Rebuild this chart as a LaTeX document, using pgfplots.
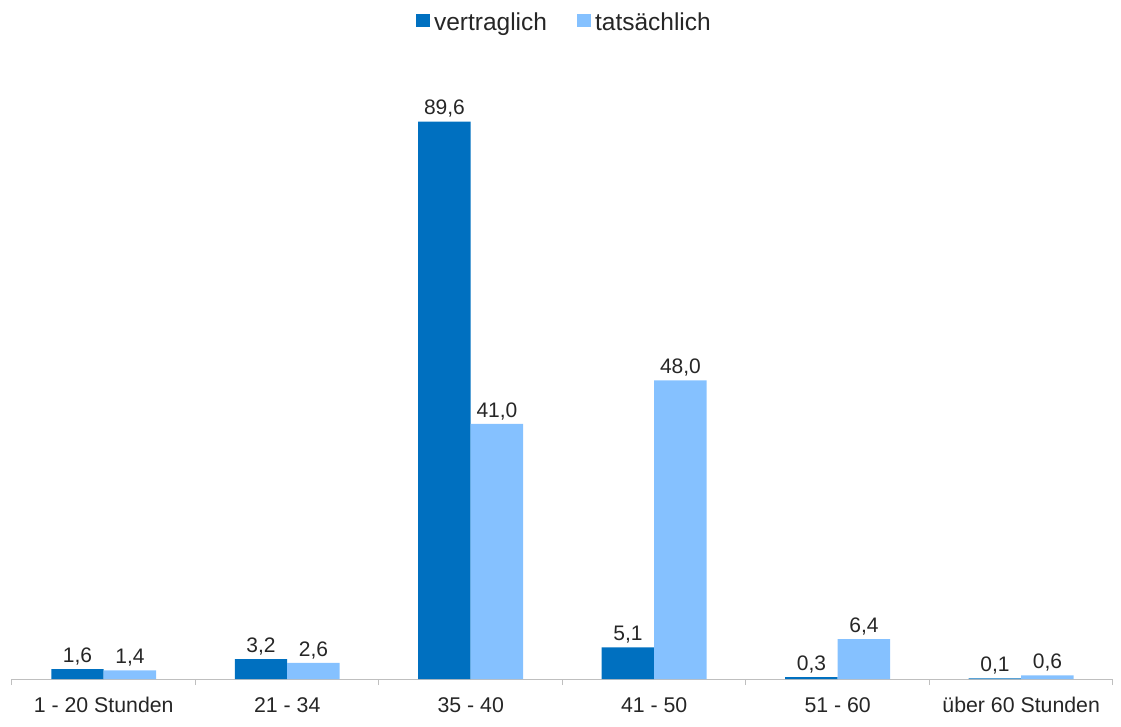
\documentclass[border=0pt]{standalone}
\usepackage{fontspec}
\setmainfont{Liberation Sans}
\usepackage{pgfplots}
\pgfplotsset{compat=1.18}
\definecolor{dunkel}{RGB}{0,112,192}
\definecolor{hell}{RGB}{133,193,255}
\definecolor{achse}{RGB}{191,191,191}
\begin{document}
\begin{tikzpicture}
\useasboundingbox (0,0) rectangle (1121pt,726pt);
\begin{axis}[
  at={(12pt,47pt)}, anchor=south west,
  scale only axis, width=1101pt, height=622pt,
  ybar, bar width=0.286, 
  xmin=-0.5, xmax=5.5, ymin=0, ymax=100,
  axis y line=none, axis x line*=bottom,
  axis line style={achse, line width=1pt},
  xtick={0,...,5},
  xticklabels={1 - 20 Stunden, 21 - 34, 35 - 40, 41 - 50, 51 - 60, über 60 Stunden},
  major tick length=0pt,
  minor xtick={-0.5,0.5,...,5.5},
  minor tick length=6pt,
  tick align=outside, xtick pos=bottom,
  minor tick style={achse, line width=1pt},
  xticklabel style={anchor=base, yshift=-33pt},
  every tick label/.append style={font=\fontsize{21.3}{25}\selectfont, text=black!85},
  nodes near coords,
  every node near coord/.append style={font=\fontsize{21}{25}\selectfont, text=black!85, yshift=0.5pt},
  /pgf/number format/.cd, fixed, fixed zerofill, precision=1, use comma, assume math mode=true,
  /pgfplots/.cd,
  legend style={at={(0.5027,1.056)}, anchor=center, draw=none, legend columns=2,
    font=\fontsize{24.5}{28}\selectfont, text=black!85,
    nodes={inner xsep=4pt},
    /tikz/every even column/.append style={column sep=26pt}},
  legend image code/.code={\fill[#1] (0pt,-5pt) rectangle (14pt,8pt);},
]
\addplot[fill=dunkel, draw=none, bar shift=-0.143] coordinates {(0,1.6) (1,3.2) (2,89.6) (3,5.1) (4,0.3) (5,0.1)};
\addplot[fill=hell, draw=none, bar shift=0.143] coordinates {(0,1.4) (1,2.6) (2,41.0) (3,48.0) (4,6.4) (5,0.6)};
\legend{vertraglich, tatsächlich}
\end{axis}
\end{tikzpicture}
\end{document}
